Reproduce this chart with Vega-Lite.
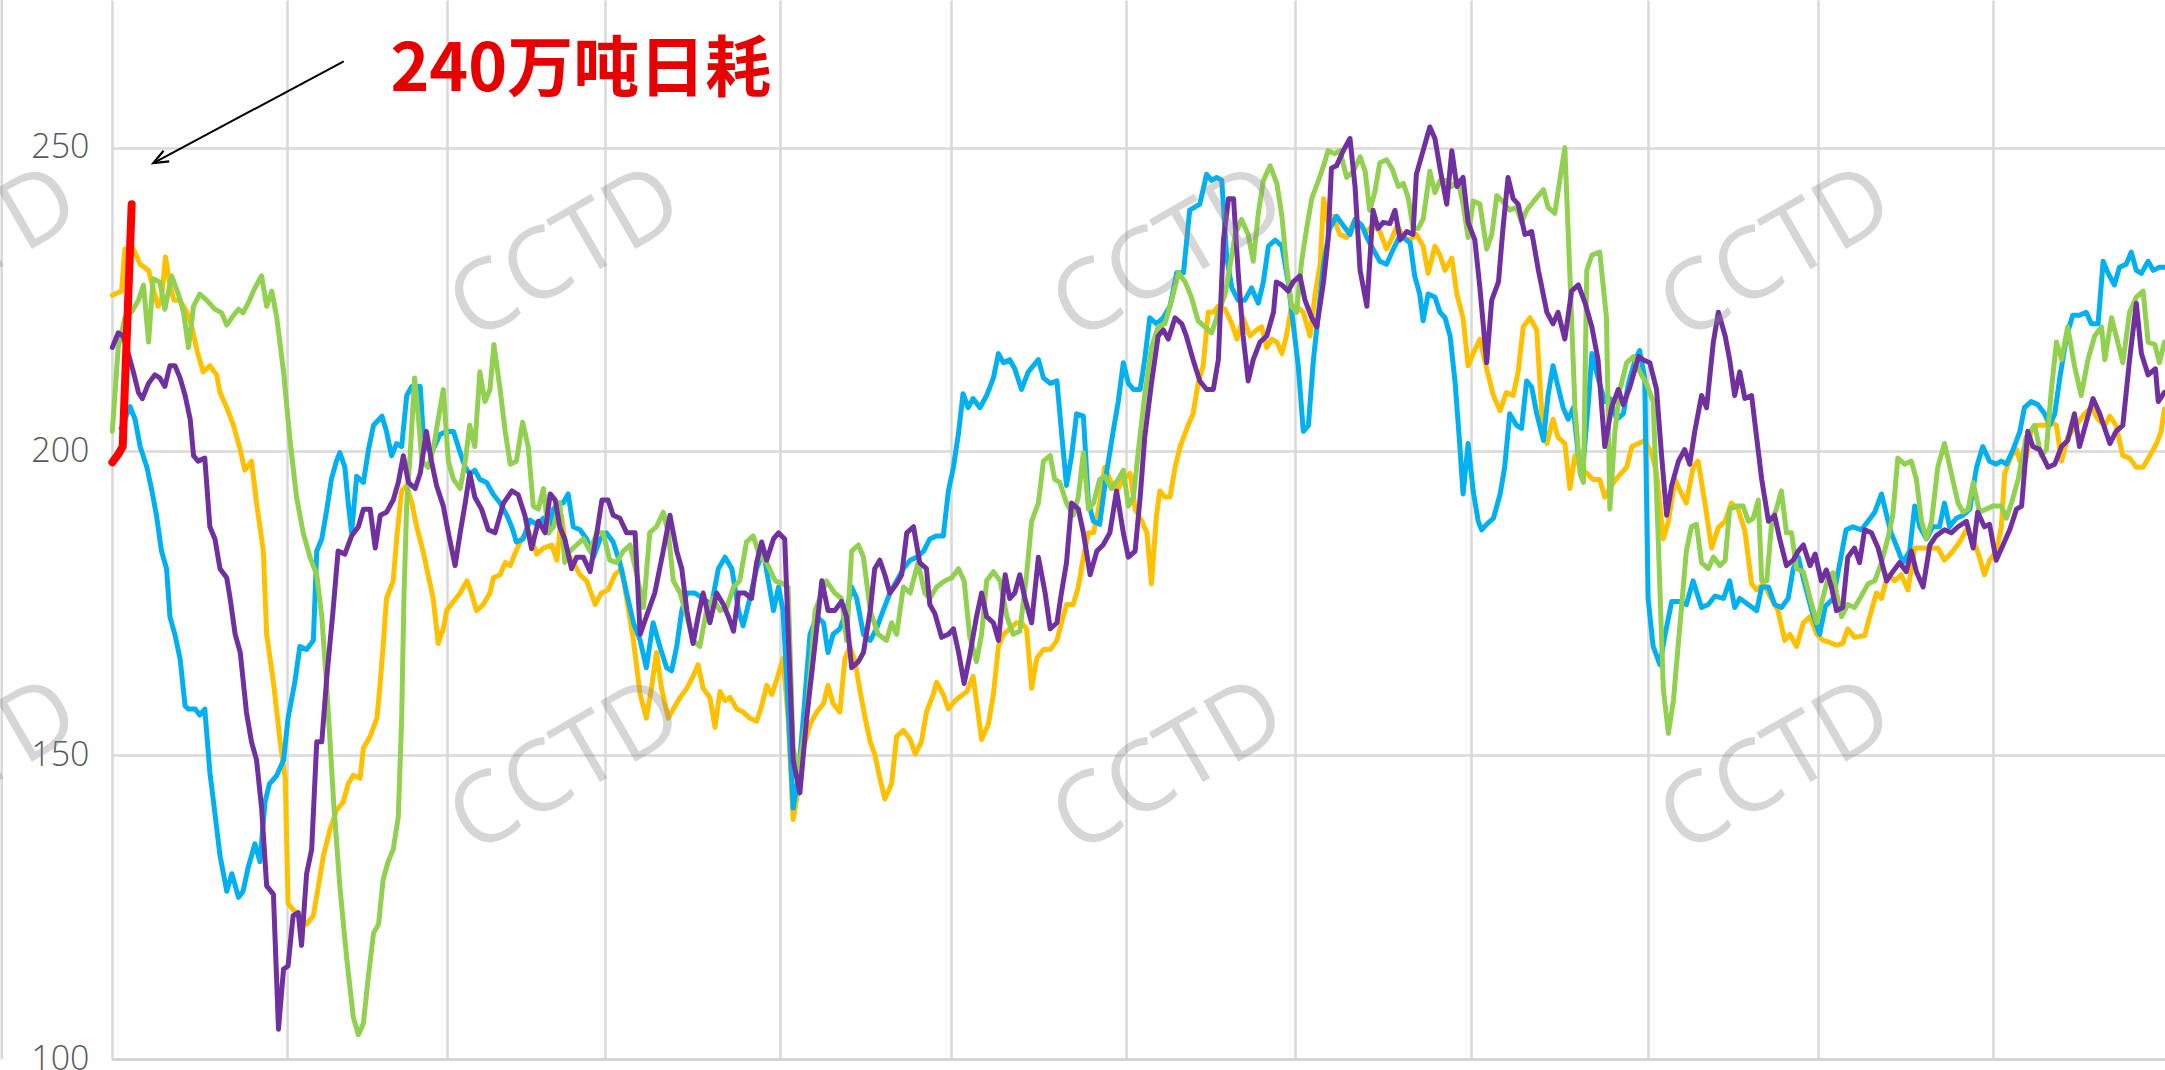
{
"$schema":"https://vega.github.io/schema/vega-lite/v6.json",
"width":2053,"height":1059,
"autosize":{"type":"none"},
"padding":{"left":112,"top":0,"right":0,"bottom":11},
"background":"white",
"config":{"view":{"stroke":null}},
"datasets":{
"Y":[[0.06,225.7],[1.7,226.4],[2.3,233.3],[3.8,233.3],[5.0,230.8],[6.5,229.8],[7.3,226.9],[8.2,223.9],[8.8,224.9],[9.5,232.0],[10.3,227.4],[11.0,224.9],[12.1,224.9],[13.3,222.9],[14.2,220.5],[15.1,216.6],[16.2,213.1],[17.4,214.1],[18.6,212.6],[19.2,209.7],[20.4,207.2],[21.6,204.3],[22.8,200.3],[23.6,196.9],[24.8,198.4],[25.7,191.5],[26.9,183.6],[27.5,169.9],[28.7,162.0],[29.9,152.2],[30.8,146.2],[31.3,125.6],[32.2,124.6],[33.4,123.6],[34.6,122.2],[35.8,123.6],[36.7,128.5],[37.6,133.5],[38.8,137.9],[39.9,140.9],[41.1,142.3],[42.0,145.3],[42.9,146.7],[44.1,146.2],[44.7,151.2],[45.9,153.1],[47.1,156.1],[47.6,161.0],[48.2,167.9],[48.8,175.8],[50.0,178.7],[50.6,185.6],[51.5,193.5],[52.4,194.4],[53.3,191.5],[54.2,187.5],[55.3,183.6],[56.2,179.7],[57.1,175.8],[58.0,168.4],[58.9,170.8],[59.5,173.8],[60.7,175.3],[61.9,176.7],[63.1,178.7],[63.9,176.7],[64.8,173.8],[66.0,174.8],[67.2,176.7],[67.8,179.2],[69.0,179.7],[69.9,181.7],[70.8,181.2],[71.6,183.1],[72.8,185.6],[74.0,187.1],[75.5,183.1],[76.7,184.1],[78.2,184.6],[79.1,182.1],[79.9,189.5],[80.8,183.6],[82.0,181.7],[83.2,179.7],[84.4,178.7],[85.9,174.8],[87.0,176.7],[88.2,177.2],[89.4,179.7],[90.6,180.7],[91.5,175.8],[92.7,168.9],[93.9,160.0],[95.0,156.1],[95.9,161.0],[96.8,166.9],[97.7,161.0],[98.9,156.1],[99.8,157.6],[101.0,159.5],[102.2,161.0],[103.3,163.0],[104.2,164.9],[105.1,161.0],[106.3,159.5],[107.2,154.6],[108.1,160.5],[109.0,159.0],[109.9,159.5],[111.1,157.6],[112.2,157.1],[113.4,156.1],[114.6,155.6],[115.5,158.1],[116.4,161.5],[117.3,160.0],[118.2,162.5],[119.3,165.9],[120.2,156.1],[121.1,139.4],[122.0,144.3],[122.9,151.2],[124.1,155.1],[125.3,157.1],[126.5,158.5],[127.3,161.5],[128.2,158.5],[129.4,157.1],[130.3,165.9],[131.2,167.9],[132.1,165.4],[133.0,160.5],[133.9,156.1],[134.8,152.2],[135.6,150.2],[136.5,146.3],[137.4,142.8],[138.6,145.3],[139.5,153.1],[140.7,154.1],[141.9,152.6],[142.8,150.2],[143.9,152.2],[144.8,157.1],[146.0,160.0],[146.6,162.0],[147.8,160.0],[148.7,157.6],[149.9,159.0],[151.0,159.8],[152.0,160.5],[153.1,163.0],[154.6,152.6],[155.8,155.1],[156.7,160.0],[157.6,167.9],[158.5,169.9],[159.6,170.8],[160.8,171.8],[161.7,171.8],[162.6,170.8],[163.5,161.0],[164.4,165.9],[165.6,167.4],[166.8,167.4],[168.0,168.9],[168.8,171.8],[169.7,174.8],[170.9,174.8],[171.8,177.7],[172.7,182.6],[173.6,186.6],[174.5,186.6],[175.6,191.5],[176.5,197.4],[177.4,195.4],[178.6,193.5],[179.8,195.4],[181.0,196.4],[181.9,190.5],[183.1,188.5],[184.0,186.6],[184.8,178.2],[185.7,189.5],[186.3,193.5],[187.2,192.5],[188.1,192.5],[189.0,197.4],[189.9,200.8],[191.1,203.8],[192.2,206.2],[193.1,211.2],[194.0,214.1],[194.9,222.9],[195.8,222.9],[196.7,223.9],[197.9,223.4],[199.1,221.0],[200.0,218.5],[201.1,222.0],[202.3,219.0],[203.5,220.0],[204.4,220.5],[205.3,217.1],[206.2,218.5],[207.1,218.0],[208.0,216.1],[208.8,219.0],[209.7,223.9],[210.6,223.9],[211.8,222.9],[213.0,219.0],[213.9,225.9],[214.8,230.8],[215.4,241.6],[216.2,237.7],[217.1,238.7],[218.3,235.7],[219.5,235.2],[220.7,237.7],[221.9,237.2],[223.1,236.2],[224.2,237.2],[225.4,236.2],[226.6,233.3],[227.5,235.0],[228.5,237.2],[229.6,235.2],[230.8,234.8],[231.9,235.7],[233.1,233.8],[234.0,229.3],[235.2,233.8],[236.1,232.3],[237.0,229.8],[238.2,231.8],[239.1,225.9],[240.2,222.0],[241.1,214.1],[242.0,216.1],[243.2,218.5],[244.4,213.6],[245.6,209.2],[246.8,206.7],[247.9,209.7],[249.1,209.2],[250.0,213.1],[250.9,220.5],[252.1,222.0],[253.3,220.0],[254.2,206.2],[255.1,201.3],[256.2,205.3],[257.1,202.3],[258.3,201.3],[259.2,193.9],[260.1,199.3],[261.0,197.4],[262.2,196.4],[263.3,195.4],[264.5,195.4],[265.4,192.5],[266.6,194.4],[267.8,195.9],[269.3,197.4],[270.2,200.8],[271.4,201.3],[272.5,201.8],[273.7,199.8],[274.6,196.4],[275.8,185.6],[276.7,188.5],[277.9,195.4],[278.8,193.5],[279.9,191.5],[281.1,197.4],[282.0,198.4],[283.2,191.5],[284.4,184.1],[285.6,187.5],[286.8,188.5],[287.9,191.5],[289.1,190.5],[290.3,187.0],[291.5,178.2],[292.4,177.2],[293.6,178.2],[295.0,175.8],[296.2,173.8],[297.4,168.9],[298.3,169.9],[299.5,167.9],[300.7,171.8],[301.9,172.8],[303.1,169.9],[304.2,168.9],[305.3,168.6],[306.6,168.1],[307.7,168.4],[308.6,170.8],[309.8,169.4],[311.6,169.7],[312.5,172.8],[313.7,176.7],[314.6,175.8],[315.7,179.7],[316.9,178.7],[318.1,179.7],[319.3,177.2],[320.5,184.1],[321.7,184.1],[323.2,184.1],[324.6,184.1],[325.8,182.1],[327.3,183.6],[328.5,185.1],[329.7,187.1],[330.9,185.6],[332.0,182.6],[332.9,179.7],[333.8,182.1],[335.0,183.6],[335.9,187.5],[336.5,196.4],[337.7,199.3],[338.6,200.3],[339.2,198.4],[340.3,198.9],[341.2,203.3],[342.4,204.3],[343.6,204.3],[344.8,204.8],[345.7,204.3],[346.6,198.4],[347.7,202.3],[349.2,204.3],[350.7,206.2],[351.9,207.2],[353.1,205.3],[354.3,204.3],[355.2,205.8],[356.3,204.3],[357.5,199.3],[358.7,198.9],[359.9,197.4],[361.1,197.4],[362.3,199.3],[363.5,201.3],[364.3,203.3],[364.9,207.0]],
"C":[[1.6,203.8],[2.3,205.3],[3.2,207.4],[4.1,205.3],[5.0,200.8],[6.2,197.4],[7.1,193.5],[7.9,189.5],[8.8,183.6],[9.7,180.7],[10.3,172.8],[11.2,169.8],[12.1,165.9],[13.0,158.1],[13.6,157.6],[14.8,157.6],[15.6,156.6],[16.5,157.6],[17.4,147.2],[18.3,140.4],[19.2,133.5],[20.4,127.6],[21.3,130.5],[22.5,126.6],[23.3,127.6],[24.2,131.5],[25.4,135.4],[26.3,132.5],[27.2,142.3],[28.0,145.3],[29.3,146.7],[30.5,149.2],[31.3,156.1],[32.5,162.0],[33.4,167.9],[34.6,167.4],[35.8,168.9],[36.4,183.6],[37.3,185.6],[38.2,190.5],[39.0,195.4],[39.9,198.4],[40.5,199.8],[41.4,197.4],[42.0,191.5],[42.6,186.6],[43.5,195.9],[44.7,194.9],[45.6,200.3],[46.5,204.3],[48.0,205.8],[48.8,203.3],[49.7,199.3],[50.6,201.3],[51.5,200.8],[52.4,209.2],[53.3,210.7],[54.8,210.7],[55.3,203.3],[56.2,200.3],[57.1,200.3],[58.3,202.8],[59.5,203.3],[60.7,203.3],[61.9,199.8],[62.8,197.4],[63.6,196.3],[64.5,196.9],[65.4,195.4],[66.6,194.9],[67.8,192.9],[69.0,191.5],[70.2,189.5],[71.1,187.5],[71.9,185.1],[73.1,185.6],[74.3,188.7],[75.5,188.0],[76.7,189.0],[77.6,186.6],[78.5,190.5],[79.4,191.5],[80.2,191.5],[81.1,193.0],[82.0,187.6],[83.2,187.1],[84.4,185.6],[85.6,182.6],[86.8,185.6],[87.9,186.6],[89.1,185.1],[90.3,181.7],[91.5,176.7],[92.7,171.8],[93.9,168.9],[95.0,164.4],[96.2,171.8],[97.4,167.9],[98.6,164.4],[99.5,163.9],[100.4,167.9],[101.3,173.8],[102.2,176.7],[103.6,176.7],[105.1,175.8],[106.6,174.8],[107.8,180.7],[109.0,182.6],[110.2,180.7],[111.4,173.8],[112.2,171.3],[113.4,175.8],[114.6,180.7],[115.8,183.6],[116.7,178.7],[117.6,173.8],[118.5,177.7],[119.3,173.8],[120.2,158.1],[121.1,141.3],[122.0,146.3],[122.9,156.1],[124.1,169.9],[125.3,172.8],[126.5,171.8],[127.3,166.9],[128.2,169.9],[129.4,170.8],[130.6,173.8],[131.5,177.7],[132.4,175.8],[133.6,169.9],[134.8,168.9],[135.9,170.8],[137.1,173.8],[138.3,176.7],[139.5,178.7],[140.7,180.7],[141.9,182.1],[143.1,182.6],[144.3,183.6],[145.4,185.6],[146.6,186.1],[147.8,186.1],[148.7,193.5],[149.6,197.4],[150.5,203.0],[151.3,209.5],[152.2,207.2],[153.1,208.7],[154.3,207.2],[155.5,209.2],[156.7,212.1],[157.6,216.1],[158.5,214.6],[159.6,215.1],[160.5,213.6],[161.7,210.2],[162.9,213.1],[164.7,215.1],[165.6,212.1],[166.8,211.2],[168.0,211.6],[168.8,203.3],[169.7,194.4],[170.6,199.3],[171.5,206.2],[172.7,205.8],[173.6,191.5],[174.5,188.5],[175.6,188.0],[176.8,196.4],[178.0,203.3],[178.9,208.2],[179.8,214.6],[180.7,211.2],[181.6,210.2],[182.8,210.2],[183.6,215.1],[184.5,222.0],[185.7,221.0],[186.9,222.0],[188.1,223.9],[189.3,229.4],[190.5,229.4],[191.6,239.7],[192.5,240.2],[193.4,240.7],[194.6,245.6],[195.5,244.6],[196.4,245.1],[197.3,244.6],[198.2,231.8],[199.1,226.9],[200.2,224.9],[201.4,224.9],[202.6,226.9],[203.8,224.4],[204.7,227.9],[205.6,233.8],[206.8,234.8],[208.0,233.8],[209.1,227.9],[210.0,221.0],[210.9,214.1],[211.8,203.3],[212.7,204.3],[213.6,215.1],[214.5,222.9],[215.4,230.8],[216.5,236.7],[217.7,238.7],[218.9,237.2],[220.1,235.7],[221.0,238.2],[222.2,237.2],[223.1,235.2],[224.2,233.3],[225.4,231.3],[226.6,230.8],[227.8,233.3],[228.7,235.0],[229.6,235.2],[230.8,234.3],[231.6,228.9],[232.5,225.9],[233.1,221.5],[234.0,225.9],[235.2,225.4],[236.1,222.9],[237.0,222.0],[237.9,219.0],[238.8,211.2],[239.6,201.3],[240.2,193.0],[241.1,201.3],[242.0,193.5],[242.9,188.5],[243.5,187.1],[244.4,188.0],[245.6,189.0],[246.8,193.0],[247.6,197.4],[248.5,206.2],[249.7,204.3],[250.6,203.8],[251.5,211.6],[252.4,210.6],[253.3,206.2],[254.5,201.8],[255.3,209.2],[256.2,214.1],[257.1,210.6],[258.0,207.2],[258.9,205.3],[259.8,207.2],[260.7,199.3],[261.6,198.4],[262.5,208.2],[263.1,216.1],[264.2,212.1],[265.4,208.2],[266.3,208.7],[267.5,205.3],[268.7,206.2],[269.6,211.2],[270.8,215.1],[271.6,216.6],[272.5,212.1],[273.1,175.8],[274.0,167.9],[275.2,164.9],[276.1,169.8],[277.3,175.3],[278.8,175.3],[279.9,174.8],[281.1,178.7],[282.6,174.3],[283.8,174.8],[285.0,176.2],[286.5,175.8],[287.6,178.7],[288.5,174.3],[289.4,175.8],[290.9,174.8],[292.4,173.8],[293.3,177.7],[294.5,177.7],[295.6,174.8],[296.8,174.3],[298.0,175.8],[298.9,180.7],[299.8,182.6],[300.8,178.7],[302.2,173.8],[303.6,169.9],[304.6,174.5],[306.0,175.8],[307.2,181.7],[308.3,187.1],[309.5,187.6],[311.0,187.1],[312.2,188.5],[313.4,190.0],[314.6,193.0],[315.5,189.5],[316.3,186.6],[317.2,184.6],[318.4,181.7],[319.6,183.6],[320.5,191.0],[321.4,187.6],[322.6,185.6],[323.7,187.6],[324.9,187.6],[325.8,191.5],[326.7,187.6],[327.9,189.0],[329.1,189.5],[330.3,190.5],[331.5,197.4],[332.6,200.8],[333.8,198.4],[335.0,197.9],[335.9,198.4],[336.8,197.9],[338.0,200.3],[339.2,203.3],[340.0,207.2],[341.2,208.2],[342.4,207.7],[343.6,206.2],[344.5,204.3],[345.4,206.2],[346.3,212.1],[347.5,219.0],[348.6,222.4],[349.8,222.4],[351.0,222.9],[351.9,221.0],[353.1,221.0],[354.0,231.3],[354.9,229.3],[356.0,227.4],[356.9,230.3],[358.1,230.8],[359.0,232.8],[359.9,229.8],[360.8,229.3],[362.0,231.3],[362.9,229.8],[364.0,230.3],[364.9,230.3]],
"G":[[0.06,203.3],[1.1,217.1],[2.3,222.0],[3.5,223.0],[4.7,224.9],[5.6,227.4],[6.5,218.0],[7.3,228.4],[8.5,227.9],[9.4,223.4],[10.6,228.9],[11.8,225.9],[12.7,223.0],[13.6,217.1],[14.5,223.9],[15.6,225.9],[16.8,224.9],[18.3,223.4],[19.5,222.8],[20.4,220.8],[21.6,222.4],[22.5,223.4],[23.3,222.8],[24.2,224.4],[25.4,226.9],[26.6,228.9],[27.5,223.9],[28.4,226.4],[29.3,222.0],[30.5,213.1],[31.6,202.3],[32.8,192.5],[34.0,186.6],[35.2,182.6],[36.4,179.7],[37.3,172.8],[38.2,161.0],[39.4,142.3],[40.5,128.5],[41.7,116.8],[42.9,106.9],[43.8,104.0],[44.7,105.9],[45.6,113.8],[46.5,120.7],[47.4,122.2],[48.2,129.5],[49.1,132.5],[50.0,134.5],[50.9,139.9],[51.5,156.1],[51.9,175.8],[52.4,191.5],[53.0,199.3],[53.8,212.1],[54.5,205.3],[55.1,198.4],[56.2,197.4],[57.1,200.3],[58.0,205.3],[58.9,210.2],[59.8,198.4],[60.7,195.4],[61.9,193.9],[62.8,198.4],[63.6,204.3],[64.5,200.8],[65.4,213.1],[66.3,208.2],[67.2,210.2],[67.9,217.6],[69.0,210.2],[69.9,203.3],[70.8,197.9],[71.9,198.4],[73.0,204.8],[74.0,200.8],[74.9,191.0],[75.8,190.5],[76.7,193.9],[77.6,186.6],[78.5,187.6],[79.6,191.5],[80.5,181.7],[81.4,183.6],[82.6,184.6],[83.8,185.6],[85.0,183.6],[86.2,186.6],[87.3,186.6],[88.5,182.1],[89.7,181.7],[90.9,183.6],[92.1,184.6],[93.3,179.7],[94.5,174.3],[95.6,186.6],[96.8,187.6],[98.0,190.0],[98.9,186.6],[99.8,178.7],[101.0,176.7],[102.2,172.8],[103.3,168.9],[104.5,167.9],[105.7,173.8],[106.9,175.8],[108.1,173.8],[109.3,174.3],[110.5,177.7],[111.6,178.7],[112.8,185.1],[114.0,186.1],[115.2,182.6],[116.4,181.7],[117.9,178.7],[119.3,178.2],[120.2,177.7],[121.1,151.2],[122.0,147.2],[123.5,156.1],[125.0,173.8],[126.2,176.7],[127.0,178.7],[128.5,176.7],[129.7,175.8],[130.6,168.9],[131.5,183.6],[132.7,184.6],[133.6,182.6],[134.8,173.8],[136.2,169.9],[137.7,168.9],[138.6,171.8],[139.5,169.9],[140.7,177.7],[141.9,176.7],[143.3,181.7],[144.5,176.7],[145.4,175.8],[146.6,177.7],[148.1,178.7],[149.3,179.2],[150.5,180.7],[151.5,178.7],[152.5,169.5],[153.7,165.4],[154.6,169.9],[155.5,178.7],[156.7,180.2],[157.9,178.7],[159.1,172.8],[160.2,169.9],[161.4,170.4],[162.6,179.7],[163.5,188.5],[164.7,191.5],[165.6,198.4],[166.8,199.3],[167.6,195.4],[168.5,194.9],[169.7,191.5],[170.9,189.5],[171.8,192.5],[172.7,199.8],[173.6,190.5],[174.5,191.5],[175.6,195.4],[176.5,195.9],[177.7,193.9],[178.9,195.4],[179.8,196.9],[180.7,191.0],[181.6,192.5],[182.5,200.3],[183.6,209.2],[184.8,217.1],[186.0,220.5],[187.2,221.0],[188.4,224.9],[189.6,229.4],[190.8,227.9],[191.9,225.4],[193.1,221.5],[194.3,220.5],[195.5,219.5],[196.7,222.9],[197.9,225.9],[198.8,230.8],[199.7,235.7],[200.8,238.2],[202.0,235.7],[202.9,231.3],[203.8,239.2],[204.7,244.6],[205.9,247.0],[207.1,244.1],[208.0,238.7],[208.8,230.8],[209.7,223.9],[210.6,222.9],[211.5,231.3],[212.4,236.7],[213.3,241.6],[214.5,244.6],[215.4,247.0],[216.2,249.5],[217.4,249.0],[218.3,249.5],[219.5,245.1],[220.7,246.1],[221.9,248.5],[222.8,246.1],[223.6,239.7],[224.5,242.6],[225.4,247.5],[226.6,248.0],[227.6,246.5],[228.7,243.6],[229.6,244.1],[230.5,241.6],[231.3,236.7],[232.2,236.7],[233.1,238.2],[234.3,246.1],[235.2,242.6],[236.1,244.6],[237.3,244.6],[238.2,243.6],[239.3,244.6],[240.2,240.7],[241.1,235.2],[242.0,241.2],[243.2,240.7],[244.4,233.3],[245.3,235.7],[246.2,242.1],[247.3,241.1],[248.5,239.7],[249.7,240.2],[250.6,237.7],[251.5,239.7],[252.7,241.1],[253.6,242.1],[254.5,243.1],[255.3,240.2],[256.5,239.2],[257.4,244.6],[258.3,250.0],[259.2,228.9],[260.1,207.2],[261.0,196.4],[261.6,194.9],[262.2,229.8],[263.1,232.3],[264.5,232.8],[265.7,222.0],[266.3,190.5],[267.2,203.3],[268.1,210.2],[269.3,214.6],[270.5,215.6],[271.6,213.1],[272.8,211.2],[274.0,208.2],[274.9,185.6],[275.8,161.0],[276.7,153.6],[277.6,159.0],[278.8,171.8],[279.9,183.6],[280.8,187.6],[281.7,188.0],[282.6,181.7],[283.8,180.7],[284.7,182.6],[285.9,181.2],[286.8,182.1],[287.6,190.5],[288.8,191.0],[290.0,191.0],[290.9,188.5],[291.8,189.0],[292.7,192.0],[293.3,178.7],[294.2,178.7],[295.1,188.5],[295.9,190.5],[296.8,193.5],[297.7,186.6],[298.6,186.6],[299.5,180.7],[300.7,180.2],[301.9,175.8],[303.1,171.8],[304.2,176.0],[305.2,179.5],[306.0,180.0],[306.6,176.7],[307.5,172.8],[308.6,174.8],[309.8,174.3],[311.0,176.2],[312.2,178.2],[313.4,178.7],[314.6,181.7],[315.7,185.6],[316.6,189.5],[317.5,198.9],[318.7,197.9],[319.9,198.4],[320.8,195.4],[321.7,188.5],[322.6,185.6],[323.5,188.5],[324.6,197.4],[325.8,201.3],[327.0,196.4],[328.2,191.5],[329.1,190.0],[330.0,190.5],[330.9,194.9],[332.0,190.0],[333.2,190.5],[334.4,191.0],[335.9,191.0],[336.8,189.0],[337.7,191.5],[338.9,195.4],[340.3,202.3],[341.8,204.3],[343.0,199.3],[343.9,200.3],[344.8,210.2],[345.7,218.0],[346.6,215.1],[347.7,220.5],[348.9,214.1],[350.1,209.2],[351.3,215.1],[352.5,219.0],[353.7,220.5],[354.3,215.1],[355.5,222.0],[356.6,218.0],[357.5,214.6],[358.7,222.9],[359.9,225.4],[361.1,226.4],[362.0,218.0],[363.2,217.6],[364.0,214.6],[364.9,218.0]],
"P":[[0.06,217.1],[1.1,219.5],[2.0,219.0],[2.9,216.1],[3.8,213.1],[4.7,209.7],[5.4,208.7],[6.5,211.2],[7.6,212.6],[8.5,212.1],[9.4,210.7],[10.3,214.1],[11.2,214.1],[12.1,212.1],[13.0,209.2],[13.9,205.3],[14.5,199.3],[15.3,198.4],[16.5,198.9],[17.4,187.6],[18.3,185.6],[19.2,180.7],[20.4,179.2],[21.0,175.8],[21.9,169.9],[22.8,166.9],[23.9,157.1],[24.8,152.2],[25.7,149.2],[26.6,141.3],[27.5,128.5],[28.7,127.1],[29.6,104.9],[30.5,114.8],[31.3,115.3],[32.2,123.6],[33.1,124.1],[33.7,118.7],[34.6,130.5],[35.5,134.5],[36.4,152.2],[37.3,152.2],[38.2,163.0],[39.3,173.8],[40.2,183.6],[41.4,183.1],[42.6,186.1],[43.8,187.6],[44.7,190.5],[45.9,190.5],[46.8,184.1],[47.7,189.5],[48.8,190.0],[50.0,192.0],[50.9,194.9],[51.8,199.3],[52.7,194.9],[53.9,193.9],[54.8,196.4],[55.9,203.3],[56.8,198.4],[57.7,194.4],[58.9,191.0],[59.8,186.6],[61.0,181.2],[61.9,186.6],[62.8,191.5],[63.6,196.4],[64.5,192.5],[65.7,190.5],[66.9,187.1],[68.1,186.6],[69.6,191.5],[71.1,193.5],[72.2,192.9],[73.4,189.5],[74.6,184.0],[75.8,188.5],[77.0,186.6],[77.9,193.0],[78.8,192.0],[79.6,187.6],[80.5,185.6],[81.7,180.7],[82.6,182.6],[83.8,182.6],[85.0,180.2],[86.2,186.6],[87.1,192.0],[88.2,192.0],[89.1,189.5],[90.3,189.0],[91.5,186.6],[93.0,186.6],[93.9,169.9],[95.0,172.8],[96.5,176.7],[98.0,183.6],[99.2,189.5],[100.4,183.6],[101.3,180.7],[102.2,173.8],[103.3,168.4],[104.2,172.8],[105.1,176.7],[106.3,171.8],[107.5,176.7],[108.7,174.8],[109.6,172.8],[110.5,170.4],[111.4,176.7],[112.5,176.7],[113.7,175.8],[114.6,181.7],[115.5,185.1],[116.4,182.1],[117.6,185.6],[118.5,186.6],[119.6,185.6],[120.2,170.8],[121.1,149.2],[122.3,143.8],[123.5,156.1],[124.7,165.9],[126.2,178.7],[127.3,173.8],[128.5,173.8],[129.7,175.3],[130.6,172.8],[131.5,164.4],[132.7,165.4],[133.6,166.9],[134.8,173.8],[135.6,180.7],[136.5,182.1],[137.4,179.7],[138.3,176.7],[139.5,178.2],[140.4,179.7],[141.3,186.6],[142.5,187.6],[143.6,181.7],[144.8,180.7],[145.4,174.8],[146.3,173.3],[147.5,169.4],[148.7,169.9],[149.6,170.8],[150.5,167.0],[151.5,161.8],[152.4,165.9],[153.7,172.8],[154.6,176.7],[155.5,172.8],[156.7,171.8],[157.6,168.9],[158.8,179.7],[159.6,175.8],[160.5,176.7],[161.4,179.7],[162.3,175.8],[163.5,171.8],[164.7,182.6],[165.9,176.7],[166.8,170.8],[168.0,171.8],[168.8,176.7],[169.7,181.7],[170.6,191.5],[171.8,190.5],[172.7,186.6],[173.9,179.7],[175.1,183.6],[176.2,184.6],[177.4,186.6],[178.6,193.5],[179.8,186.6],[180.7,182.6],[181.9,183.6],[182.8,192.5],[183.6,202.3],[184.8,211.2],[186.0,219.0],[186.9,220.0],[187.8,218.5],[189.0,222.0],[190.2,221.0],[191.0,219.0],[192.2,215.1],[193.4,211.6],[194.6,210.2],[195.8,210.2],[196.7,215.1],[197.6,234.8],[198.5,241.6],[199.4,241.6],[200.2,229.8],[201.1,219.0],[202.0,211.6],[202.9,215.1],[204.1,218.0],[205.3,219.0],[206.5,222.9],[207.0,227.9],[208.0,227.4],[209.1,226.4],[210.0,227.9],[211.2,228.9],[212.1,224.9],[213.3,222.0],[214.2,220.5],[215.4,227.9],[216.2,234.8],[216.8,246.6],[217.7,247.0],[218.9,249.5],[220.1,251.5],[221.0,243.6],[221.9,229.8],[223.1,223.9],[224.2,239.7],[225.1,236.7],[226.0,237.7],[227.2,237.5],[228.1,239.7],[229.0,234.8],[230.2,236.2],[231.3,235.7],[231.9,245.6],[233.1,249.5],[234.3,253.4],[235.2,251.5],[236.1,246.6],[237.3,240.7],[238.2,249.5],[239.1,243.6],[240.2,245.1],[241.1,237.7],[242.3,234.8],[243.2,226.9],[244.4,214.6],[245.3,224.9],[246.5,227.9],[247.3,236.7],[248.2,245.1],[249.1,241.6],[250.0,240.7],[251.2,235.7],[252.4,236.2],[253.6,229.8],[255.1,222.9],[256.2,221.0],[257.1,222.9],[258.3,218.5],[259.5,226.4],[260.7,227.4],[261.9,224.4],[263.1,220.5],[264.2,215.1],[265.4,200.8],[266.6,207.2],[267.8,210.2],[268.7,207.7],[269.9,210.7],[271.4,215.6],[272.2,215.1],[273.4,214.6],[274.6,210.2],[275.5,199.3],[276.4,189.5],[277.3,194.4],[278.5,198.4],[279.6,200.3],[280.5,197.9],[281.4,203.3],[282.6,209.2],[283.5,207.2],[284.7,218.0],[285.6,222.9],[286.8,219.0],[287.6,215.1],[288.5,209.2],[289.4,213.1],[290.3,208.7],[291.5,209.2],[292.4,202.3],[293.3,195.4],[294.5,188.5],[295.6,189.5],[296.5,185.6],[297.7,181.2],[298.9,182.1],[299.8,183.6],[300.7,184.6],[301.9,181.2],[302.8,183.1],[303.9,178.7],[304.8,180.5],[305.7,177.7],[306.6,173.8],[307.7,174.3],[308.6,182.6],[309.8,184.1],[310.7,181.7],[311.6,187.1],[312.8,186.6],[314.0,184.1],[315.5,178.7],[316.6,180.2],[317.8,181.7],[319.0,180.2],[319.9,183.6],[320.8,180.2],[322.0,177.7],[323.2,184.6],[324.3,186.1],[325.8,187.1],[327.0,186.6],[328.2,187.6],[329.7,188.5],[330.9,184.1],[331.7,190.0],[332.9,187.6],[333.8,188.0],[335.0,182.1],[336.2,184.6],[337.4,187.1],[338.6,190.5],[339.5,191.0],[340.6,203.3],[341.5,200.8],[342.7,200.3],[344.2,197.4],[345.4,197.9],[346.6,200.8],[347.7,201.8],[348.9,206.2],[349.8,200.8],[351.0,204.8],[352.2,208.7],[353.4,206.2],[355.2,201.3],[356.3,203.3],[357.5,204.3],[358.7,215.1],[359.9,224.4],[360.8,216.1],[362.0,212.6],[363.3,213.6],[363.8,208.2],[364.9,209.7]],
"R":[[0.06,198.2],[1.1,199.5],[1.9,200.8],[3.5,240.7]]
},
"layer":[
{"data":{"name":"Y"},"transform":[{"calculate":"datum[0]","as":"d"},{"calculate":"datum[1]","as":"v"}],
 "mark":{"type":"line","color":"#FFC000","strokeWidth":5,"strokeJoin":"round","strokeCap":"round"},
 "encoding":{
  "x":{"field":"d","type":"quantitative","scale":{"domain":[0,365],"nice":false,"zero":false},
       "axis":{"values":[0,31.2,59.5,87.6,118.8,149.1,180.2,210.4,241.7,273.0,303.3,334.5],"grid":true,"gridColor":"#D9D9D9","gridWidth":2.5,"labels":false,"ticks":false,"domain":true,"domainColor":"#D4D4D4","domainWidth":3,"title":null}},
  "y":{"field":"v","type":"quantitative","scale":{"domain":[100,274.3],"nice":false,"zero":false},
       "axis":{"values":[100,150,200,250],"grid":true,"gridColor":"#D9D9D9","gridWidth":2.5,"ticks":false,"domain":false,"labelFont":"Open Sans","labelFontWeight":300,"labelFontSize":34,"labelColor":"#595959","labelPadding":23,"labelFlush":false,"labelOverlap":false,"title":null}}}},
{"data":{"name":"C"},"transform":[{"calculate":"datum[0]","as":"d"},{"calculate":"datum[1]","as":"v"}],
 "mark":{"type":"line","color":"#00B0F0","strokeWidth":5,"strokeJoin":"round","strokeCap":"round"},
 "encoding":{"x":{"field":"d","type":"quantitative"},"y":{"field":"v","type":"quantitative"}}},
{"data":{"name":"G"},"transform":[{"calculate":"datum[0]","as":"d"},{"calculate":"datum[1]","as":"v"}],
 "mark":{"type":"line","color":"#92D050","strokeWidth":5,"strokeJoin":"round","strokeCap":"round"},
 "encoding":{"x":{"field":"d","type":"quantitative"},"y":{"field":"v","type":"quantitative"}}},
{"data":{"name":"P"},"transform":[{"calculate":"datum[0]","as":"d"},{"calculate":"datum[1]","as":"v"}],
 "mark":{"type":"line","color":"#7030A0","strokeWidth":5,"strokeJoin":"round","strokeCap":"round"},
 "encoding":{"x":{"field":"d","type":"quantitative"},"y":{"field":"v","type":"quantitative"}}},
{"data":{"name":"R"},"transform":[{"calculate":"datum[0]","as":"d"},{"calculate":"datum[1]","as":"v"}],
 "mark":{"type":"line","color":"#FF0000","strokeWidth":8,"strokeJoin":"round","strokeCap":"round"},
 "encoding":{"x":{"field":"d","type":"quantitative"},"y":{"field":"v","type":"quantitative"}}},
{"data":{"values":[{"d":-19.6}]},
 "mark":{"type":"rule","color":"#D9D9D9","strokeWidth":2.5},
 "encoding":{"x":{"field":"d","type":"quantitative"}}},
{"data":{"values":[{"d":-26.5,"v":232.3},{"d":80.8,"v":232.3},{"d":188,"v":232.3},{"d":296,"v":232.3},{"d":-26.5,"v":147.9},{"d":80.8,"v":147.9},{"d":188,"v":147.9},{"d":296,"v":147.9}]},
 "mark":{"type":"text","text":"CCTD","angle":-30,"fontSize":98,"font":"Open Sans","fontWeight":"normal","color":"#8C8C8C","opacity":0.35,"align":"center","baseline":"middle"},
 "encoding":{"x":{"field":"d","type":"quantitative"},"y":{"field":"v","type":"quantitative"}}},
{"data":{"values":[{"d":41.2,"v":264.2},{"d":7.34,"v":247.47}]},
 "mark":{"type":"line","color":"#000000","strokeWidth":2},
 "encoding":{"x":{"field":"d","type":"quantitative"},"y":{"field":"v","type":"quantitative"}}},
{"data":{"values":[{"o":0,"d":10.17,"v":247.75},{"o":1,"d":7.34,"v":247.47},{"o":2,"d":9.17,"v":249.49}]},
 "mark":{"type":"line","color":"#000000","strokeWidth":2.2,"strokeJoin":"miter"},
 "encoding":{"x":{"field":"d","type":"quantitative"},"y":{"field":"v","type":"quantitative"},"order":{"field":"o","type":"quantitative"}}},
{"data":{"values":[{"d":49.5,"v":259.4,"t":"240万吨日耗"}]},
 "mark":{"type":"text","align":"left","baseline":"alphabetic","fontSize":66,"fontWeight":"bold","font":"Noto Sans CJK SC","color":"#E60000"},
 "encoding":{"x":{"field":"d","type":"quantitative"},"y":{"field":"v","type":"quantitative"},"text":{"field":"t"}}}
]
}
